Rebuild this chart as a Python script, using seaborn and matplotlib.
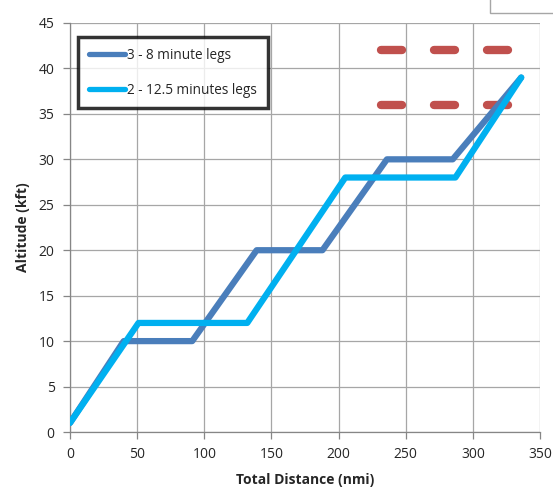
import matplotlib
matplotlib.use("Agg")
import matplotlib.pyplot as plt
import seaborn as sns
import pandas as pd
from matplotlib.patches import Rectangle

# Data
dist_3x8 = [0, 40, 91, 139, 188, 236, 285, 336]
alt_3x8 = [1, 10, 10, 20, 20, 30, 30, 39]
dist_2x12 = [0, 51, 132, 205, 287, 336]
alt_2x12 = [1, 12, 12, 28, 28, 39]
label_3x8 = "3 - 8 minute legs"
label_2x12 = "2 - 12.5 minutes legs"
ref_dist = [231.5, 326.5]
ref_alt_hi = [42, 42]
ref_alt_lo = [36, 36]
x_ticks = [0, 50, 100, 150, 200, 250, 300, 350]
y_ticks = [0, 5, 10, 15, 20, 25, 30, 35, 40, 45]

sns.set_theme(style="white")
plt.rcParams['font.family'] = ['Open Sans', 'DejaVu Sans']

fig = plt.figure(figsize=(5.53, 4.93), dpi=100)
ax = fig.add_axes([70/553, 1-432/493, 470/553, 409/493])

df = pd.concat([
    pd.DataFrame({"dist": dist_3x8, "alt": alt_3x8, "series": label_3x8}),
    pd.DataFrame({"dist": dist_2x12, "alt": alt_2x12, "series": label_2x12}),
])
palette = {label_3x8: "#4A7EBB", label_2x12: "#00B0F0"}

red = "#C0504D"
for ya in (ref_alt_hi, ref_alt_lo):
    ax.plot(ref_dist, ya, color=red, lw=6, dashes=(2.52, 3.84), dash_capstyle="round",
            solid_capstyle="round", zorder=2)

sns.lineplot(data=df, x="dist", y="alt", hue="series", palette=palette, sort=False,
             estimator=None, lw=4.5, ax=ax, zorder=3, legend=True)

ax.set_xlim(0, 350)
ax.set_ylim(0, 45)
ax.set_xticks(x_ticks)
ax.set_yticks(y_ticks)
ax.grid(True, color="#A6A6A6", lw=0.9)
ax.set_axisbelow(True)
for s in ["top", "right"]:
    ax.spines[s].set_visible(False)
for s in ["left", "bottom"]:
    ax.spines[s].set_color("#868686")
    ax.spines[s].set_linewidth(0.9)
ax.tick_params(axis="both", length=5, width=0.9, color="#868686", labelsize=10,
               labelcolor="#262626", direction="out", bottom=True, left=True, pad=6)
ax.set_xlabel("Total Distance (nmi)", fontsize=10, fontweight="bold", labelpad=8)
ax.set_ylabel("Altitude (kft)", fontsize=10, fontweight="bold", labelpad=6)

leg = ax.legend(loc="upper left", bbox_to_anchor=(0.018, 0.966), frameon=True,
                fancybox=False, fontsize=9.8, handlelength=2.6, handletextpad=0.15,
                borderpad=0.8, labelspacing=1.45, borderaxespad=0)
leg.get_frame().set_edgecolor("black")
leg.get_frame().set_linewidth(2.5)
for h in leg.get_lines():
    h.set_linewidth(3.8)
    h.set_solid_capstyle("round")

# partially visible box at top right
fig.patches.append(Rectangle((490/553, 1-13/493), 70/553, 20/493, transform=fig.transFigure,
                             facecolor="white", edgecolor="#A6A6A6", lw=1, clip_on=False))

fig.savefig("out.png", dpi=100)
